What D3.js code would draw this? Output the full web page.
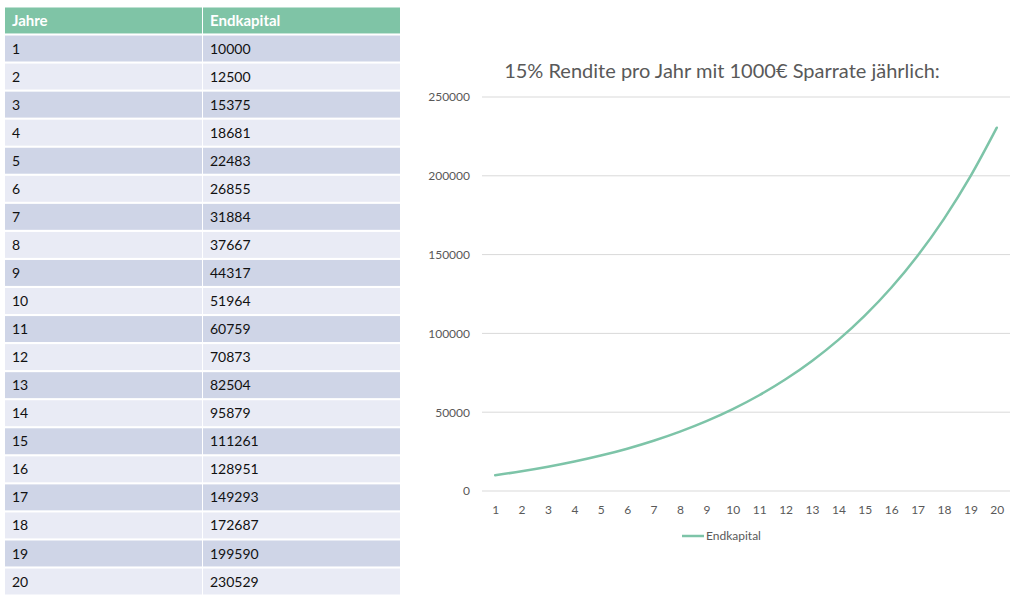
<!DOCTYPE html>
<html><head><meta charset="utf-8">
<script src="https://cdn.jsdelivr.net/npm/d3@7"></script>
<style>html,body{margin:0;padding:0;background:#fff;}svg{display:block;}</style>
</head><body>
<script>
const years = [1,2,3,4,5,6,7,8,9,10,11,12,13,14,15,16,17,18,19,20];
const endkapital = [10000,12500,15375,18681,22483,26855,31884,37667,44317,51964,60759,70873,82504,95879,111261,128951,149293,172687,199590,230529];
const tableHeaders = ["Jahre","Endkapital"];
const yTicks = [0,50000,100000,150000,200000,250000];
const title = "15% Rendite pro Jahr mit 1000€ Sparrate jährlich:";
const seriesName = "Endkapital";

const W = 1024, H = 601;
const font = "Lato, 'Open Sans', sans-serif";
const svg = d3.select("body").append("svg").attr("width", W).attr("height", H);

// ---- Table ----
const tbl = svg.append("g");
const colX = d3.scaleOrdinal().domain([0,1]).range([5, 203]);
const colW = [197, 197];
const rowY = d3.scaleBand().domain(d3.range(21)).range([7.5, 594.5]).paddingInner(0.075);
tableHeaders.forEach((h,i)=>{
  tbl.append("rect").attr("x", colX(i)).attr("y", rowY(0)).attr("width", colW[i]).attr("height", rowY.bandwidth()).attr("fill", "#7fc4a6");
  tbl.append("text").attr("x", colX(i)+7).attr("y", rowY(0)+rowY.bandwidth()/2).attr("dy","0.36em")
    .attr("font-family", font).attr("font-weight","bold").attr("font-size", 15).attr("fill","#fff").text(h);
});
years.forEach((yr, r)=>{
  const fill = r % 2 === 0 ? "#cfd5e7" : "#e9ebf5";
  [yr, endkapital[r]].forEach((v,i)=>{
    tbl.append("rect").attr("x", colX(i)).attr("y", rowY(r+1)).attr("width", colW[i]).attr("height", rowY.bandwidth()).attr("fill", fill);
    tbl.append("text").attr("x", colX(i)+7).attr("y", rowY(r+1)+rowY.bandwidth()/2).attr("dy","0.36em")
      .attr("font-family", font).attr("font-size", 14).attr("fill","#111").text(v);
  });
});

// ---- Chart ----
const plot = {left: 482, right: 1010, top: 97, bottom: 491};
const x = d3.scalePoint().domain(years).range([plot.left + 13.2, plot.right - 13.2]);
const y = d3.scaleLinear().domain([0, 250000]).range([plot.bottom, plot.top]);

svg.append("text").attr("x", 722).attr("y", 78).attr("text-anchor","middle")
  .attr("font-family", font).attr("font-size", 20).attr("fill", "#595959").text(title);

const grid = svg.append("g");
grid.selectAll("line").data(yTicks).join("line")
  .attr("x1", plot.left).attr("x2", plot.right)
  .attr("y1", d=>y(d)).attr("y2", d=>y(d))
  .attr("stroke", "#d9d9d9").attr("stroke-width", 1);

const yAxis = svg.append("g").attr("transform", `translate(${plot.left},0)`)
  .call(d3.axisLeft(y).tickValues(yTicks).tickSize(0).tickPadding(12).tickFormat(d3.format("d")));
yAxis.select(".domain").remove();
yAxis.selectAll("text").attr("font-family", font).attr("font-size", 12).attr("fill", "#595959");

const xAxis = svg.append("g").attr("transform", `translate(0,${plot.bottom})`)
  .call(d3.axisBottom(x).tickSize(0).tickPadding(14));
xAxis.select(".domain").remove();
xAxis.selectAll("text").attr("font-family", font).attr("font-size", 12).attr("fill", "#595959");

const line = d3.line().x((d,i)=>x(years[i])).y(d=>y(d)).curve(d3.curveMonotoneX);
svg.append("path").datum(endkapital).attr("d", line)
  .attr("fill","none").attr("stroke","#7dc4a8").attr("stroke-width", 2.5).attr("stroke-linecap","round");

// legend
const lg = svg.append("g").attr("transform","translate(682,536)");
lg.append("line").attr("x1",0).attr("x2",22).attr("stroke","#7dc4a8").attr("stroke-width",2.5);
lg.append("text").attr("x",24).attr("dy","0.35em").attr("font-family", font).attr("font-size", 12).attr("fill","#595959").text(seriesName);
</script>
</body></html>
